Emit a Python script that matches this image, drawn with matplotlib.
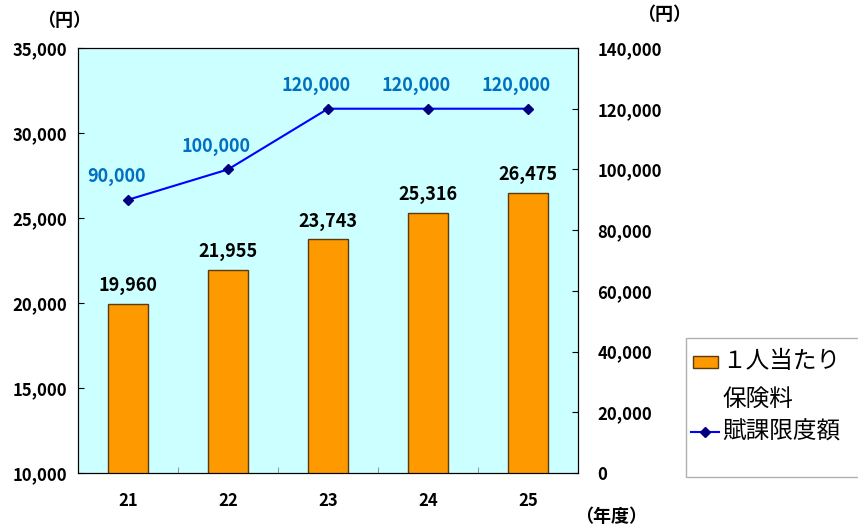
import matplotlib.pyplot as plt
import numpy as np
from matplotlib.patches import Rectangle
from matplotlib.lines import Line2D

plt.rcParams['font.family'] = ['Noto Sans CJK JP', 'DejaVu Sans']

years = ['21', '22', '23', '24', '25']
premium = [19960, 21955, 23743, 25316, 26475]
limit = [90000, 100000, 120000, 120000, 120000]

W, H = 858, 529
fig = plt.figure(figsize=(W / 100, H / 100), dpi=100)
ax = fig.add_axes([78 / W, 1 - 473 / H, 500 / W, 425 / H])
ax.set_facecolor('#ccffff')

x = np.arange(len(years))
ax.bar(x, premium, width=0.4, color='#ff9900', edgecolor='#5a3a10', linewidth=1, zorder=2)
ax.set_ylim(10000, 35000)
ax.set_xlim(-0.5, 4.5)
ax.set_yticks(np.arange(10000, 35001, 5000))
ax.set_yticklabels([f'{v:,}' for v in range(10000, 35001, 5000)], fontweight='bold', fontsize=12)
ax.set_xticks(x)
ax.set_xticklabels(years, fontweight='bold', fontsize=12)
ax.tick_params(axis='x', length=0, pad=14)
ax.tick_params(axis='y', length=4, direction='in', pad=8)
ax.set_xticks(np.arange(0.5, 4.5, 1), minor=True)
ax.tick_params(axis='x', which='minor', length=4, direction='in', color='gray')

for xi, v in zip(x, premium):
    ax.text(xi, v + 500, f'{v:,}', ha='center', va='bottom', fontsize=13, fontweight='bold')

ax2 = ax.twinx()
ax2.plot(x, limit, color='#0000ff', linewidth=1.5, marker='D', markersize=5,
         markerfacecolor='#000080', markeredgecolor='#000080', zorder=3)
ax2.set_ylim(0, 140000)
ax2.set_yticks(np.arange(0, 140001, 20000))
ax2.set_yticklabels([f'{v:,}' for v in range(0, 140001, 20000)], fontweight='bold', fontsize=12)
ax2.tick_params(axis='y', length=4, direction='in', pad=14)

for xi, v in zip(x, limit):
    ax2.text(xi - 0.12, v + 4500, f'{v:,}', ha='center', va='bottom',
             fontsize=13, fontweight='bold', color='#0070c0')

# unit labels
fig.text(64 / W, 1 - 21 / H, '（円）', ha='center', va='center', fontsize=13, fontweight='bold')
fig.text(664 / W, 1 - 15 / H, '（円）', ha='center', va='center', fontsize=13, fontweight='bold')
fig.text(611 / W, 1 - 517 / H, '（年度）', ha='center', va='center', fontsize=13, fontweight='bold')

# legend drawn by hand so the two-line label sits left-aligned
fig.patches.append(Rectangle((686 / W, 1 - 477 / H), 0.25, 139 / H, transform=fig.transFigure,
                             facecolor='white', edgecolor='#b0b0b0', linewidth=1))
fig.patches.append(Rectangle((693 / W, 1 - 368 / H), 25 / W, 12 / H, transform=fig.transFigure,
                             facecolor='#ff9900', edgecolor='#5a3a10', linewidth=1))
fig.lines.append(Line2D([691 / W, 719 / W], [1 - 432 / H, 1 - 432 / H], transform=fig.transFigure,
                        color='#0000ff', linewidth=1.5))
fig.lines.append(Line2D([705 / W], [1 - 432 / H], transform=fig.transFigure, marker='D',
                        markersize=5, color='#000080'))
fig.text(722 / W, 1 - 362 / H, '１人当たり', ha='left', va='center', fontsize=17)
fig.text(722 / W, 1 - 399 / H, '保険料', ha='left', va='center', fontsize=17)
fig.text(722 / W, 1 - 432 / H, '賦課限度額', ha='left', va='center', fontsize=17)

plt.savefig('out.png', dpi=100)
